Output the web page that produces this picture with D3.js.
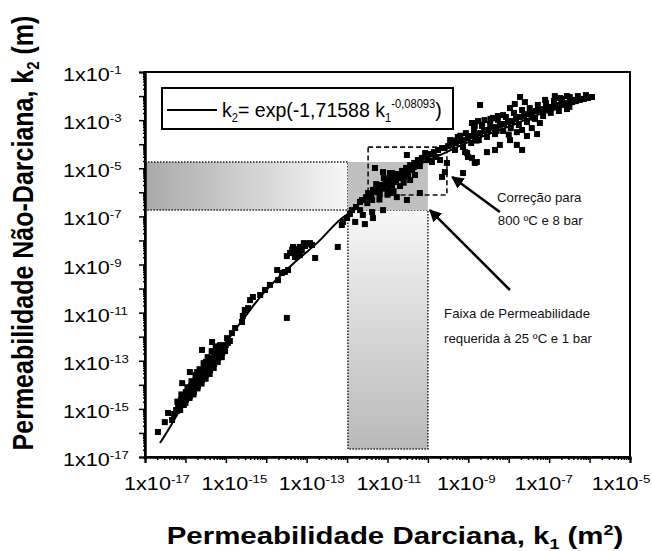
<!DOCTYPE html>
<html><head><meta charset="utf-8">
<script src="https://cdn.jsdelivr.net/npm/d3@7"></script>
<style>
html,body{margin:0;padding:0;background:#fff;}
text{font-family:"Liberation Sans",Arial,sans-serif;}
</style></head>
<body><svg id="chart" width="652" height="551"></svg>
<script>
// ---------- DATA (log10 values) ----------
const xTickExps = [-17,-16,-15,-14,-13,-12,-11,-10,-9,-8,-7,-6,-5];
const yTickExps = [-17,-16,-15,-14,-13,-12,-11,-10,-9,-8,-7,-6,-5,-4,-3,-2,-1];
const xLabelExps = [-17,-15,-13,-11,-9,-7,-5];
const yLabelExps = [-17,-15,-13,-11,-9,-7,-5,-3,-1];

// fitted curve k2 = exp(-1,71588 k1^-0,08093): [log10 k1, log10 k2]
const fitCurve = [
 [-16.63,-16.42],[-16.38,-15.75],[-16.18,-15.17],[-15.76,-14.21],[-15.34,-13.18],
 [-14.95,-12.14],[-14.53,-11.18],[-14.11,-10.27],[-13.71,-9.56],[-13.29,-8.90],
 [-12.72,-8.07],[-12.18,-7.15],[-11.85,-6.74],[-11.36,-5.90],[-10.52,-5.07],
 [-9.70,-4.45],[-8.89,-3.83],[-8.04,-3.29],[-7.23,-2.75],[-6.41,-2.33],[-5.94,-2.08]
];

// measured points: [log10 k1, log10 k2]
const measured = [
 [-16.68,-15.96],[-16.51,-15.55],[-16.43,-15.17],[-16.33,-15.46],[-16.21,-15.09],[-16.28,-15.21],
 [-16.23,-15.05],[-16.18,-14.88],[-16.13,-14.80],[-16.11,-14.63],[-16.06,-14.55],[-16.01,-14.47],
 [-15.99,-14.30],[-15.94,-14.38],[-15.91,-14.18],[-15.86,-14.05],[-15.84,-14.22],[-15.81,-13.93],
 [-15.76,-13.84],[-15.74,-14.01],[-15.71,-13.72],[-15.66,-13.64],[-15.64,-13.80],[-15.61,-13.51],
 [-15.57,-13.43],[-15.54,-13.59],[-15.52,-13.30],[-15.47,-13.22],[-15.44,-13.39],[-15.42,-13.09],
 [-15.37,-13.01],[-15.34,-13.18],[-15.32,-12.89],[-15.27,-12.80],[-15.24,-12.97],[-15.22,-12.68],
 [-15.17,-12.60],[-15.14,-12.76],[-15.12,-12.47],[-15.07,-12.43],[-15.05,-12.55],[-15.00,-12.35],
 [-14.95,-12.26],[-14.90,-12.18],[-15.99,-14.63],[-15.89,-14.47],[-15.79,-14.30],[-15.69,-14.05],
 [-15.59,-13.80],[-15.49,-13.59],[-15.39,-13.39],[-15.29,-13.14],[-15.19,-12.89],[-15.09,-12.68],
 [-16.13,-15.05],[-16.04,-14.84],[-15.71,-13.47],[-15.49,-13.05],[-15.29,-12.64],[-15.14,-12.35],
 [-16.20,-14.70],[-16.10,-14.40],[-15.95,-14.10],[-15.85,-13.85],[-15.75,-13.60],[-15.65,-13.35],
 [-15.55,-13.10],[-15.45,-12.85],[-15.35,-12.60],[-15.25,-12.40],[-16.00,-14.75],[-15.90,-14.55],
 [-15.80,-14.40],[-15.70,-14.15],[-15.60,-13.95],[-15.50,-13.75],[-15.40,-13.55],[-15.30,-13.30],
 [-15.20,-13.05],[-15.10,-12.85],[-15.02,-12.60],
 [-15.59,-12.55],[-16.08,-13.93],[-15.89,-13.47],[-15.34,-12.22],[-14.97,-12.06],[-14.85,-11.85],
 [-14.77,-11.64],[-14.60,-11.39],[-14.53,-10.89],[-14.58,-11.14],[-14.45,-10.81],[-14.40,-10.48],
 [-14.33,-10.35],[-14.15,-10.27],[-14.03,-10.06],[-13.91,-9.85],[-13.73,-9.23],[-13.71,-9.65],
 [-13.61,-9.35],[-13.54,-9.31],[-13.46,-9.23],[-13.49,-11.22],[-13.49,-8.65],[-13.41,-8.52],
 [-13.36,-8.40],[-13.29,-8.48],[-13.24,-8.36],[-13.17,-8.27],[-13.12,-8.40],[-13.04,-8.23],
 [-12.99,-8.15],[-12.92,-8.11],[-12.87,-8.19],[-13.29,-8.69],[-13.17,-8.61],[-13.34,-8.27],
 [-13.07,-8.11],[-12.79,-8.73],[-12.23,-8.27],[-12.13,-7.36],[-12.10,-7.23],[-11.56,-7.32],
 [-11.61,-6.94],[-11.38,-6.82],[-11.36,-7.07],[-11.11,-6.74],[-11.68,-6.40],[-11.48,-6.03],
 [-11.36,-5.90],[-11.19,-5.82],[-11.01,-5.78],[-10.94,-6.03],[-10.77,-6.20],[-10.52,-6.32],
 [-10.20,-6.03],[-11.31,-4.99],[-11.11,-5.16],[-10.94,-5.20],[-10.52,-4.45],[-10.07,-4.37],
 [-9.90,-4.74],[-10.25,-4.87],[-9.70,-4.66],[-9.58,-5.16],[-9.53,-4.78],[-9.65,-5.36],
 [-11.63,-6.32],[-11.53,-6.20],[-11.43,-6.07],[-11.33,-5.95],[-11.24,-5.82],[-11.14,-5.70],
 [-11.04,-5.57],[-10.94,-5.45],[-10.84,-5.32],[-10.74,-5.24],[-10.64,-5.11],[-10.54,-4.99],
 [-10.44,-4.87],[-10.34,-4.78],[-10.25,-4.66],[-10.15,-4.57],[-10.05,-4.49],[-9.95,-4.41],
 [-9.85,-4.33],[-9.75,-4.24],[-9.65,-4.16],[-11.28,-5.66],[-11.09,-5.41],[-10.89,-5.20],
 [-10.69,-5.41],[-10.49,-5.24],[-10.79,-5.57],[-10.59,-5.36],[-10.39,-5.07],[-10.20,-4.91],
 [-10.00,-4.66],[-9.80,-4.53],[-11.19,-6.07],[-10.99,-5.90],[-10.44,-5.49],[-10.32,-5.28],
 [-10.69,-5.74],[-10.89,-5.70],[-11.38,-6.32],[-11.78,-6.61],[-11.88,-6.74],[-11.93,-6.90],
 [-11.68,-6.74],[-12.00,-7.07],[-11.80,-7.23],[-9.03,-4.37],[-8.91,-4.57],[-8.84,-4.78],
 [-8.54,-4.33],[-9.13,-5.20],[-9.08,-4.33],[-9.01,-4.53],[-8.79,-4.74],
 [-11.50,-6.45],[-11.40,-6.20],[-11.25,-6.00],[-11.10,-5.85],[-10.95,-5.65],[-10.80,-5.45],
 [-10.65,-5.25],[-10.50,-5.10],[-10.35,-4.95],[-10.20,-4.75],[-11.20,-6.30],[-11.00,-6.10],
 [-10.85,-5.95],[-10.60,-5.60],
 [-9.60,-4.16],[-9.50,-4.08],[-9.40,-4.03],[-9.31,-3.95],[-9.21,-3.87],[-9.11,-3.83],
 [-9.01,-3.74],[-8.91,-3.66],[-8.81,-3.62],[-8.71,-3.54],[-8.61,-3.45],[-8.51,-3.41],
 [-8.42,-3.33],[-8.32,-3.29],[-8.22,-3.20],[-8.12,-3.16],[-8.02,-3.08],[-7.92,-3.04],
 [-7.82,-2.95],[-7.72,-2.87],[-7.62,-2.83],[-7.52,-2.75],[-7.43,-2.70],[-7.33,-2.62],
 [-7.23,-2.58],[-7.13,-2.54],[-7.03,-2.50],[-6.93,-2.45],[-6.83,-2.41],[-6.73,-2.37],
 [-6.63,-2.33],[-6.53,-2.29],[-6.44,-2.25],[-6.34,-2.21],[-6.24,-2.16],[-6.14,-2.12],
 [-6.04,-2.08],[-5.94,-2.04],
 [-9.45,-3.83],[-9.26,-3.70],[-9.06,-3.54],[-8.86,-3.41],[-8.66,-3.24],[-8.46,-3.16],
 [-8.27,-2.99],[-8.07,-2.87],[-7.87,-2.70],[-7.67,-2.58],[-7.48,-2.50],[-7.28,-2.37],
 [-7.08,-2.29],[-6.88,-2.21],[-6.68,-2.12],[-6.49,-2.04],[-6.29,-2.00],[-6.09,-1.96],
 [-9.33,-4.24],[-9.13,-4.12],[-8.93,-3.95],[-8.74,-3.83],[-8.54,-3.70],[-8.34,-3.58],
 [-8.14,-3.45],[-7.95,-3.33],[-7.75,-3.20],[-7.55,-3.08],[-7.35,-2.95],[-7.15,-2.83],
 [-6.96,-2.70],[-6.76,-2.62],[-6.56,-2.54],
 [-8.60,-3.00],[-8.45,-2.95],[-8.30,-3.45],[-8.00,-3.60],[-7.80,-3.50],[-7.40,-2.90],
 [-7.00,-2.60],[-6.70,-2.30],[-6.50,-2.45],[-9.20,-3.65],[-9.40,-3.85],[-8.80,-3.85],
 [-8.91,-3.12],[-8.84,-3.24],[-8.76,-3.04],[-8.66,-3.20],[-8.86,-3.33],[-8.39,-2.91],
 [-8.27,-2.83],[-8.14,-2.79],[-8.71,-2.37],[-7.72,-2.04],[-7.97,-2.50],[-7.85,-2.33],
 [-7.60,-2.25],[-6.73,-2.08],[-6.56,-2.00],[-6.41,-2.16],[-6.86,-2.00],[-7.10,-2.16],
 [-7.67,-3.41],[-7.55,-3.66],[-7.43,-3.33],[-7.30,-3.58],[-7.23,-3.12],[-7.80,-4.03],
 [-7.67,-4.24],[-8.34,-4.24],[-8.22,-4.03],[-7.97,-3.83]
];

// shaded regions [x0,x1,y0,y1] as log10 values
const hBand   = [-17, -11.98, -6.74, -4.74];
const overlap = [-11.98, -10.0, -6.74, -4.74];
const vBand   = [-11.98, -10.0, -16.67, -6.74];
const corrBox = [-11.48, -9.53, -6.11, -4.12];

// arrows [fromLogK1, fromLogK2, toLogK1, toLogK2]
const arrows = [[-8.22,-6.82,-9.40,-5.36],[-7.97,-10.06,-9.95,-6.74]];
// notes [logK1, logK2, text]
const notes = [
 [-8.29,-6.40,"Correção para"],[-8.27,-7.36,"800 ºC e 8 bar"],
 [-9.60,-11.22,"Faixa de Permeabilidade"],[-9.60,-12.26,"requerida à 25 ºC e 1 bar"]
];

// ---------- CHART ----------
const P = v => Math.pow(10, v);
const svg = d3.select("#chart");
const L = 145, R = 630, T = 72, B = 457;
const x = d3.scaleLog().domain([1e-17, 1e-5]).range([L, R]);
const y = d3.scaleLog().domain([1e-17, 1e-1]).range([B, T]);
const xLab = d3.scaleLog().domain([1e-17, 1e-5]).range([157, 621]);

const defs = svg.append("defs");
const gH = defs.append("linearGradient").attr("id","gH").attr("x1","0").attr("x2","1").attr("y1","0").attr("y2","0");
gH.append("stop").attr("offset","0").attr("stop-color","#a9a9a9");
gH.append("stop").attr("offset","1").attr("stop-color","#f7f7f7");
const gV = defs.append("linearGradient").attr("id","gV").attr("x1","0").attr("x2","0").attr("y1","0").attr("y2","1");
gV.append("stop").attr("offset","0").attr("stop-color","#f6f6f6");
gV.append("stop").attr("offset","1").attr("stop-color","#b9b9b9");
const mk = defs.append("marker").attr("id","arr").attr("viewBox","0 0 10 10").attr("refX",9).attr("refY",5)
  .attr("markerWidth",5).attr("markerHeight",5).attr("orient","auto").attr("markerUnits","strokeWidth");
mk.append("path").attr("d","M0,0 L10,5 L0,10 z").attr("fill","#000");

function rect(r, fill, stroke, dash){
  return svg.append("rect")
    .attr("x", x(P(r[0]))).attr("width", x(P(r[1])) - x(P(r[0])))
    .attr("y", y(P(r[3]))).attr("height", y(P(r[2])) - y(P(r[3])))
    .attr("fill", fill).attr("stroke", stroke).attr("stroke-width", 1.5)
    .attr("stroke-dasharray", dash);
}
rect(hBand, "url(#gH)", "#222", "1.5,1.5");
rect(vBand, "url(#gV)", "#222", "1.5,1.5");
rect(overlap, "#c0c0c0", "none", null);

// dashed correction box
rect(corrBox, "none", "#111", "5,3").attr("stroke-width",1.6);

// fit curve
svg.append("path").datum(fitCurve)
  .attr("d", d3.line().x(d => x(P(d[0]))).y(d => y(P(d[1]))).curve(d3.curveMonotoneX))
  .attr("fill","none").attr("stroke","#000").attr("stroke-width",2);

// points
const S = 6;
svg.append("g").selectAll("rect").data(measured).join("rect")
  .attr("x", d => x(P(d[0])) - S/2).attr("y", d => y(P(d[1])) - S/2)
  .attr("width", S).attr("height", S).attr("fill","#000");

// frame + axes
svg.append("rect").attr("x",L).attr("y",T).attr("width",R-L).attr("height",B-T)
  .attr("fill","none").attr("stroke","#000").attr("stroke-width",2);

const xMinor = [], yMinor = [];
xTickExps.slice(0,-1).forEach(e => { for (let m=2;m<10;m++) xMinor.push(m*P(e)); });
yTickExps.slice(0,-1).forEach(e => { for (let m=2;m<10;m++) yMinor.push(m*P(e)); });

svg.append("g").attr("transform",`translate(0,${B})`)
  .call(d3.axisBottom(x).tickValues(xTickExps.map(P)).tickSize(6).tickFormat(""));
svg.append("g").attr("transform",`translate(0,${B})`)
  .call(d3.axisBottom(x).tickValues(xMinor).tickSize(3).tickFormat(""));
svg.append("g").attr("transform",`translate(${L},0)`)
  .call(d3.axisLeft(y).tickValues(yTickExps.map(P)).tickSize(6).tickFormat(""));
svg.append("g").attr("transform",`translate(${L},0)`)
  .call(d3.axisLeft(y).tickValues(yMinor).tickSize(2).tickFormat(""));
svg.selectAll(".domain").attr("stroke","#000").attr("stroke-width",2);
svg.selectAll(".tick line").attr("stroke","#000").attr("stroke-width",1.5);

// tick labels
function sciLabel(sel, e){
  sel.append("tspan").text("1x10");
  sel.append("tspan").attr("dy",-7).attr("font-size",11).text(e);
}
xLabelExps.forEach(e => {
  const t = svg.append("text").attr("text-anchor","middle").attr("font-size",18)
    .attr("transform",`translate(${xLab(P(e))},490) scale(1.2,1)`);
  sciLabel(t, e);
});
yLabelExps.forEach(e => {
  const t = svg.append("text").attr("text-anchor","start").attr("font-size",18)
    .attr("transform",`translate(63,${y(P(e))+9}) scale(1.2,1)`);
  sciLabel(t, e);
});

// axis titles
const xt = svg.append("text").attr("text-anchor","middle").attr("font-size",23).attr("font-weight","bold")
  .attr("transform","translate(395,544) scale(1.28,1)");
xt.append("tspan").text("Permeabilidade Darciana, k");
xt.append("tspan").attr("dy",5).attr("font-size",14).text("1");
xt.append("tspan").attr("dy",-5).text(" (m");
xt.append("tspan").attr("dy",-9).attr("font-size",14).text("2");
xt.append("tspan").attr("dy",9).text(")");

const yt = svg.append("text").attr("text-anchor","middle").attr("font-size",25).attr("font-weight","bold")
  .attr("transform","translate(33,233) scale(1.15,1) rotate(-90)");
yt.append("tspan").text("Permeabilidade Não-Darciana, k");
yt.append("tspan").attr("dy",5).attr("font-size",15).text("2");
yt.append("tspan").attr("dy",-5).text(" (m)");

// legend
svg.append("rect").attr("x",162).attr("y",88).attr("width",291).attr("height",41)
  .attr("fill","#fff").attr("stroke","#000").attr("stroke-width",2);
svg.append("line").attr("x1",167).attr("x2",217).attr("y1",110).attr("y2",110)
  .attr("stroke","#000").attr("stroke-width",2);
const lt = svg.append("text").attr("font-size",21).attr("transform","translate(222,117) scale(0.93,1)");
lt.append("tspan").text("k");
lt.append("tspan").attr("dy",5).attr("font-size",12).text("2");
lt.append("tspan").attr("dy",-5).text("= exp(-1,71588 k");
lt.append("tspan").attr("dy",5).attr("font-size",12).text("1");
lt.append("tspan").attr("dy",-14).attr("font-size",12).text("-0,08093");
lt.append("tspan").attr("dy",9).text(")");

// arrows
arrows.forEach(a => {
  svg.append("line").attr("x1",x(P(a[0]))).attr("y1",y(P(a[1])))
    .attr("x2",x(P(a[2]))).attr("y2",y(P(a[3])))
    .attr("stroke","#000").attr("stroke-width",2.5).attr("marker-end","url(#arr)");
});
// notes
notes.forEach(n => {
  svg.append("text").attr("font-size",12).attr("fill","#111")
    .attr("transform",`translate(${x(P(n[0]))},${y(P(n[1]))}) scale(1.1,1)`).text(n[2]);
});
</script></body></html>
